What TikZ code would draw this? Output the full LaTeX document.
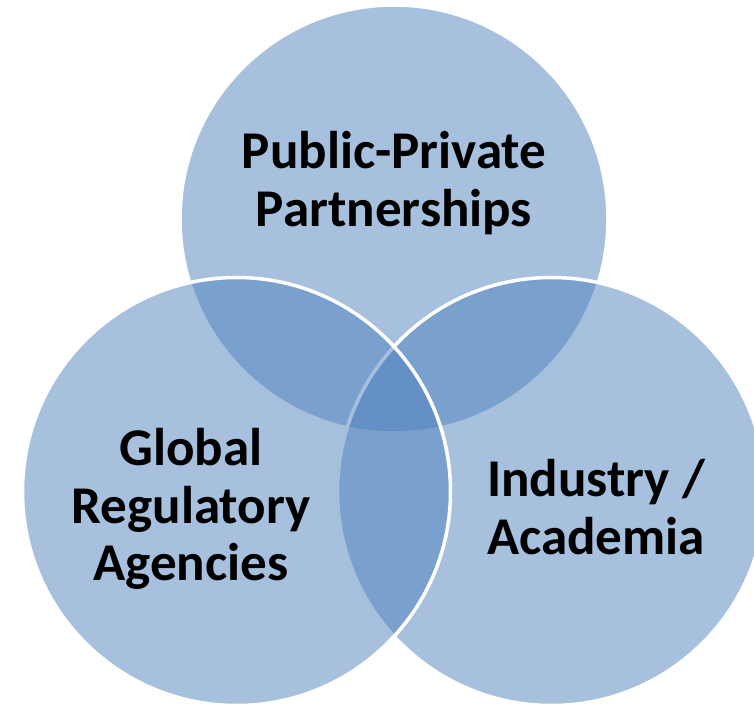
\documentclass[tikz,border=0pt]{standalone}
\usepackage{fontspec}
\setmainfont{Carlito}
\definecolor{vennblue}{RGB}{79,129,189}

\begin{document}
\begin{tikzpicture}[
        setcircle/.style={fill=vennblue, fill opacity=0.5, draw=white, line width=2pt},
        setname/.style={align=center, inner sep=0pt,
            font=\fontsize{30.2}{32.6}\selectfont\bfseries}
    ]
        \useasboundingbox (0,0) rectangle (15.08,14.14);
        \clip (0,0) rectangle (15.08,14.14);

        \coordinate (ppp) at (7.88,9.76);
        \coordinate (gra) at (4.73,4.31);
        \coordinate (ind) at (11.03,4.31);

        \draw[setcircle] (ppp) circle (4.28);
        \draw[setcircle] (ind) circle (4.28);
        \draw[setcircle] (gra) circle (4.28);

        \node[setname] (pppname) at (7.88,10.48) {Public-Private\\Partnerships};
        \node[setname] (graname) at (3.82,3.96) {Global\\Regulatory\\Agencies};
        \node[setname] (indname) at (11.92,4.00) {Industry /\\Academia};
    \end{tikzpicture}
\end{document}
